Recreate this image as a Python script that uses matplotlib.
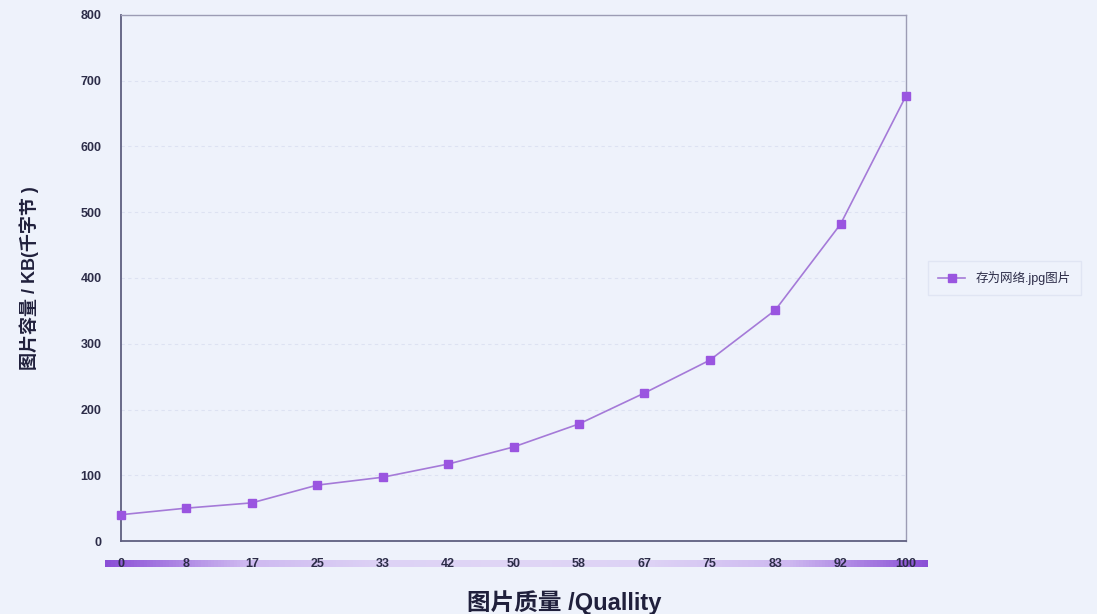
import numpy as np
import matplotlib.pyplot as plt
from matplotlib.colors import LinearSegmentedColormap

plt.rcParams['font.family'] = ['Liberation Sans', 'Noto Sans CJK SC']

# 图片质量与文件大小
quality = ['0', '8', '17', '25', '33', '42', '50', '58', '67', '75', '83', '92', '100']
size_kb = [40, 50, 58, 85, 97, 117, 143, 178, 225, 275, 351, 482, 677]
series_name = '存为网络.jpg图片'

bg = '#eef2fb'
fig = plt.figure(figsize=(10.97, 6.14), dpi=100, facecolor=bg)

# x 轴标签下方的紫色渐变条（先画，放在底层）
band = fig.add_axes([105 / 1097, 1 - 567 / 614, 822 / 1097, 7 / 614], zorder=0)
cmap = LinearSegmentedColormap.from_list(
    'band', ['#8a4fd6', '#cdb8f0', '#ddd2f5', '#e0d6f6', '#ddd2f5', '#cdb8f0', '#8a4fd6'])
grad = np.linspace(0, 1, 256).reshape(1, -1)
band.imshow(grad, aspect='auto', cmap=cmap)
band.axis('off')

ax = fig.add_axes([121 / 1097, 1 - 541 / 614, 785 / 1097, 526 / 614], zorder=2)
ax.set_facecolor(bg)

x = np.arange(len(quality))
ax.plot(x, size_kb, color='#a57ad8', lw=1.2, marker='s', ms=6,
        mfc='#9a55e0', mec='#9a55e0', label=series_name, zorder=3, clip_on=False)

ax.set_xlim(0, len(quality) - 1)
ax.set_ylim(0, 800)
ax.set_yticks(range(0, 801, 100))
ax.set_xticks(x)
ax.set_xticklabels(quality)
ax.tick_params(axis='both', length=0, labelsize=9, labelcolor='#2c2c48')
ax.tick_params(axis='x', pad=12)
ax.tick_params(axis='y', pad=14)
for lab in ax.get_xticklabels() + ax.get_yticklabels():
    lab.set_fontweight('bold')

# 浅色虚线网格
for v in range(100, 800, 100):
    ax.axhline(v, color='#dde2f2', lw=0.8, ls=(0, (3, 3)), zorder=1)

for side in ['top', 'right']:
    ax.spines[side].set_color('#9c9cb4')
    ax.spines[side].set_linewidth(1.0)
for side in ['left', 'bottom']:
    ax.spines[side].set_color('#5f5f80')
    ax.spines[side].set_linewidth(1.3)

ax.set_xlabel('图片质量 /Quallity', fontsize=17, fontweight='bold', color='#20203c')
ax.xaxis.set_label_coords(0.565, -0.093)
ax.set_ylabel('图片容量 / KB(千字节 )', fontsize=13, fontweight='bold', color='#20203c', labelpad=30)

leg = ax.legend(loc='center left', bbox_to_anchor=(1.02, 0.5), fontsize=9,
                frameon=True, fancybox=False, handlelength=2.2,
                borderpad=0.8, facecolor=bg, edgecolor='#dde2f2')
for t in leg.get_texts():
    t.set_color('#2c2c48')

fig.savefig('out.png', dpi=100, facecolor=bg)
